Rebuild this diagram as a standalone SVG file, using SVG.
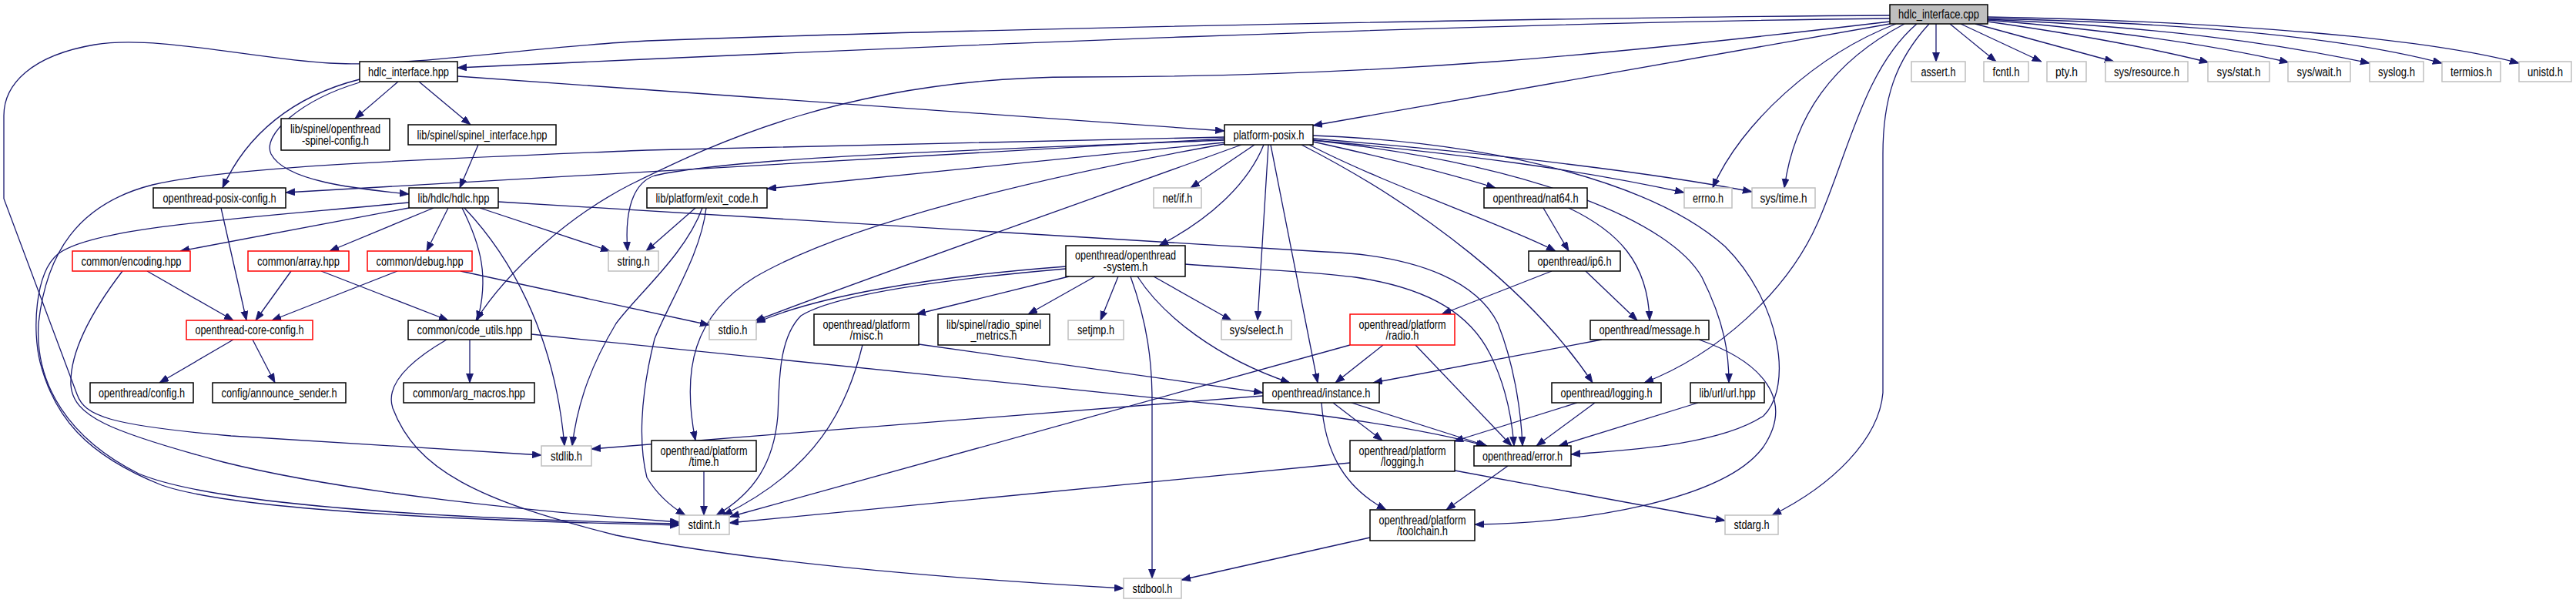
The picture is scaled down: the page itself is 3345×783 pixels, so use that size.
<svg xmlns="http://www.w3.org/2000/svg" width="3345" height="783" viewBox="0 0 3345 783">
<defs>
<marker id="a" markerUnits="userSpaceOnUse" markerWidth="13" markerHeight="10" refX="12" refY="4.5" orient="auto">
<path d="M0,0 L12,4.5 L0,9 Z" fill="#191970" stroke="#191970" stroke-width="0.8"/>
</marker>
<style>
.e{fill:none;stroke:#191970;stroke-width:1.3;marker-end:url(#a)}
.n rect{fill:#fff;stroke:#000;stroke-width:1.5}
.g rect{fill:#fff;stroke:#bfbfbf;stroke-width:1.5}
.r rect{fill:#fff;stroke:#ff0000;stroke-width:1.5}
.c rect{fill:#bfbfbf;stroke:#000;stroke-width:1.5}
text{font-family:"Liberation Sans Narrow","Liberation Sans",Arial,sans-serif;font-size:16px;fill:#000;text-anchor:middle}
</style>
</defs>
<rect width="3345" height="783" fill="#fff"/>
<g id="edges">
<path class="e" d="M2454,24 C1900,30 1200,60 594,88"/>
<path class="e" d="M2454,20 C2100,22 1300,36 840,53 C700,60 520,88 428,82 C330,76 200,45 123,58 C40,72 5,110 5,150 L5,258 L100,512 C110,540 140,552 300,566 L703,591"/>
<path class="e" d="M2454,28 C2100,70 1800,100 1400,100 C1100,100 920,190 818,240 C740,280 660,350 618,416"/>
<path class="e" d="M2454,31 L1705,163"/>
<path class="e" d="M2462,31 C2360,70 2260,160 2224,244"/>
<path class="e" d="M2473,31 C2380,80 2330,150 2317,244"/>
<path class="e" d="M2489,31 C2420,90 2400,200 2360,290 C2320,380 2230,460 2135,497"/>
<path class="e" d="M2505,31 C2460,80 2445,130 2445,200 L2445,510 C2440,570 2380,630 2301,669"/>
<path class="e" d="M2514,31 L2514,80"/>
<path class="e" d="M2532,31 L2592,80"/>
<path class="e" d="M2546,31 L2651,80"/>
<path class="e" d="M2565,31 L2745,80"/>
<path class="e" d="M2581,28 C2700,45 2800,64 2868,81"/>
<path class="e" d="M2581,26 C2750,40 2880,60 2972,81"/>
<path class="e" d="M2581,25 C2800,35 2950,55 3077,82"/>
<path class="e" d="M2581,24 C2850,30 3050,50 3171,82"/>
<path class="e" d="M2581,22 C2900,28 3150,50 3271,82"/>
<path class="e" d="M517,106 L461,154"/>
<path class="e" d="M544,106 L611,162"/>
<path class="e" d="M467,103 C380,125 320,175 289,244"/>
<path class="e" d="M467,107 C390,130 340,175 352,200 C370,235 460,245 531,252"/>
<path class="e" d="M594,99 L1590,170"/>
<path class="e" d="M621,188 L597,244"/>
<path class="e" d="M1590,178 L840,195 C600,205 300,215 198,240 C100,265 60,330 50,420 C45,500 90,570 180,615 C300,665 700,676 882,680"/>
<path class="e" d="M531,263 C300,285 120,295 75,330 C45,355 42,430 52,470 C70,540 110,590 210,630 C320,668 700,678 882,682"/>
<path class="e" d="M159,352 C130,390 90,450 92,500 C95,540 140,560 290,600 C450,640 700,665 882,678"/>
<path class="e" d="M1590,180 L371,250"/>
<path class="e" d="M1590,182 C1250,195 950,205 850,228 C815,240 812,290 815,326"/>
<path class="e" d="M1590,185 L996,245"/>
<path class="e" d="M1590,187 C1350,230 1100,290 980,360 C900,410 885,480 903,572"/>
<path class="e" d="M1612,188 C1400,265 1100,370 980,417"/>
<path class="e" d="M1629,188 L1546,244"/>
<path class="e" d="M1641,188 C1620,240 1570,285 1505,319"/>
<path class="e" d="M1647,188 L1633,416"/>
<path class="e" d="M1650,188 L1711,497"/>
<path class="e" d="M1705,182 C1900,200 2050,220 2187,250"/>
<path class="e" d="M1705,180 C1950,200 2150,225 2275,249"/>
<path class="e" d="M1705,184 C1800,205 1880,225 1942,244"/>
<path class="e" d="M1700,188 C1800,240 1950,290 2020,326"/>
<path class="e" d="M1690,188 C1850,270 1990,380 2068,497"/>
<path class="e" d="M1705,182 C2000,215 2170,290 2210,360 C2240,420 2245,460 2245,497"/>
<path class="e" d="M1705,176 C1950,185 2150,240 2240,320 C2310,390 2330,500 2290,540 C2230,580 2100,585 2040,590"/>
<path class="e" d="M531,270 L234,326"/>
<path class="e" d="M563,270 L428,326"/>
<path class="e" d="M582,270 L554,326"/>
<path class="e" d="M600,270 C625,320 635,360 620,416"/>
<path class="e" d="M603,270 C660,330 720,430 733,579"/>
<path class="e" d="M623,270 L792,326"/>
<path class="e" d="M647,262 C1100,290 1550,320 1720,327 C1850,332 1920,370 1945,420 C1965,470 1975,530 1977,579"/>
<path class="e" d="M903,270 L839,326"/>
<path class="e" d="M912,270 C890,330 830,380 800,420 C770,470 750,520 743,579"/>
<path class="e" d="M917,270 C910,330 870,390 850,440 C830,520 830,580 840,620 C855,645 875,660 890,669"/>
<path class="e" d="M191,352 L303,416"/>
<path class="e" d="M287,270 L320,416"/>
<path class="e" d="M378,352 L332,416"/>
<path class="e" d="M516,352 L353,416"/>
<path class="e" d="M417,352 L582,416"/>
<path class="e" d="M598,352 L921,422"/>
<path class="e" d="M303,441 L207,497"/>
<path class="e" d="M328,441 L357,497"/>
<path class="e" d="M610,441 L610,497"/>
<path class="e" d="M580,441 C530,470 500,500 510,530 C540,610 620,650 800,695 C1000,735 1300,755 1459,764"/>
<path class="e" d="M690,434 L1680,535 C1800,550 1880,565 1929,579"/>
<path class="e" d="M1388,359 L1190,408"/>
<path class="e" d="M1422,359 L1335,408"/>
<path class="e" d="M1452,359 L1429,416"/>
<path class="e" d="M1468,359 C1490,420 1496,470 1496,520 L1496,751"/>
<path class="e" d="M1477,359 C1510,410 1580,465 1675,497"/>
<path class="e" d="M1498,359 L1599,416"/>
<path class="e" d="M1539,343 C1600,348 1700,352 1760,360 C1860,375 1910,410 1935,460 C1955,500 1963,540 1966,579"/>
<path class="e" d="M1384,346 C1200,360 1060,385 982,419"/>
<path class="e" d="M1384,349 C1200,365 1080,385 1040,410 C1010,440 1012,500 1010,540 C1005,600 980,640 930,669"/>
<path class="e" d="M1193,447 L1640,510"/>
<path class="e" d="M1120,448 C1100,530 1060,610 939,669"/>
<path class="e" d="M1753,448 L948,671"/>
<path class="e" d="M1796,448 L1734,497"/>
<path class="e" d="M1838,448 L1963,579"/>
<path class="e" d="M2015,352 L1872,408"/>
<path class="e" d="M2059,352 L2126,416"/>
<path class="e" d="M2004,270 L2037,326"/>
<path class="e" d="M2037,270 C2100,300 2140,340 2142,416"/>
<path class="e" d="M2080,441 L1783,497"/>
<path class="e" d="M2206,441 C2290,470 2330,520 2290,580 C2240,650 2050,680 1915,681"/>
<path class="e" d="M1731,523 L1795,572"/>
<path class="e" d="M1755,523 L1931,579"/>
<path class="e" d="M1716,523 C1720,580 1740,630 1800,662"/>
<path class="e" d="M1640,514 L768,583"/>
<path class="e" d="M2048,523 L1888,573"/>
<path class="e" d="M2071,523 L1995,579"/>
<path class="e" d="M2205,523 L2024,579"/>
<path class="e" d="M1889,611 L2240,676"/>
<path class="e" d="M1753,601 L947,679"/>
<path class="e" d="M1958,605 L1878,662"/>
<path class="e" d="M1779,698 L1534,753"/>
<path class="e" d="M914,612 L914,669"/>
</g>
<g id="n_cpp" class="c"><rect x="2454" y="6" width="127" height="25"/><text x="2517.5" y="24" textLength="105" lengthAdjust="spacingAndGlyphs">hdlc_interface.cpp</text></g>
<g id="n_hif" class="n"><rect x="467" y="80" width="127" height="26"/><text x="530.5" y="98.5" textLength="105" lengthAdjust="spacingAndGlyphs">hdlc_interface.hpp</text></g>
<g id="n_assert" class="g"><rect x="2482" y="80" width="70" height="26"/><text x="2517" y="98.5" textLength="45" lengthAdjust="spacingAndGlyphs">assert.h</text></g>
<g id="n_fcntl" class="g"><rect x="2576" y="80" width="58" height="26"/><text x="2605" y="98.5" textLength="35" lengthAdjust="spacingAndGlyphs">fcntl.h</text></g>
<g id="n_pty" class="g"><rect x="2658" y="80" width="51" height="26"/><text x="2683.5" y="98.5" textLength="29" lengthAdjust="spacingAndGlyphs">pty.h</text></g>
<g id="n_resource" class="g"><rect x="2734" y="80" width="107" height="26"/><text x="2787.5" y="98.5" textLength="85" lengthAdjust="spacingAndGlyphs">sys/resource.h</text></g>
<g id="n_stat" class="g"><rect x="2867" y="80" width="80" height="26"/><text x="2907" y="98.5" textLength="57" lengthAdjust="spacingAndGlyphs">sys/stat.h</text></g>
<g id="n_wait" class="g"><rect x="2971" y="80" width="81" height="26"/><text x="3011.5" y="98.5" textLength="58" lengthAdjust="spacingAndGlyphs">sys/wait.h</text></g>
<g id="n_syslog" class="g"><rect x="3077" y="80" width="70" height="26"/><text x="3112" y="98.5" textLength="48" lengthAdjust="spacingAndGlyphs">syslog.h</text></g>
<g id="n_termios" class="g"><rect x="3171" y="80" width="76" height="26"/><text x="3209" y="98.5" textLength="54" lengthAdjust="spacingAndGlyphs">termios.h</text></g>
<g id="n_unistd" class="g"><rect x="3271" y="80" width="68" height="26"/><text x="3305" y="98.5" textLength="46" lengthAdjust="spacingAndGlyphs">unistd.h</text></g>
<g id="n_spcfg" class="n"><rect x="365" y="154" width="141" height="41"/><text x="435.5" y="172.5" textLength="117" lengthAdjust="spacingAndGlyphs">lib/spinel/openthread</text><text x="435.5" y="187.5" textLength="87" lengthAdjust="spacingAndGlyphs">-spinel-config.h</text></g>
<g id="n_spif" class="n"><rect x="530" y="162" width="192" height="26"/><text x="626" y="180.5" textLength="169" lengthAdjust="spacingAndGlyphs">lib/spinel/spinel_interface.hpp</text></g>
<g id="n_pp" class="n"><rect x="1590" y="162" width="115" height="26"/><text x="1647.5" y="180.5" textLength="92" lengthAdjust="spacingAndGlyphs">platform-posix.h</text></g>
<g id="n_opc" class="n"><rect x="199" y="244" width="172" height="26"/><text x="285" y="262.5" textLength="147" lengthAdjust="spacingAndGlyphs">openthread-posix-config.h</text></g>
<g id="n_hdlc" class="n"><rect x="531" y="244" width="116" height="26"/><text x="589" y="262.5" textLength="93" lengthAdjust="spacingAndGlyphs">lib/hdlc/hdlc.hpp</text></g>
<g id="n_exit" class="n"><rect x="840" y="244" width="156" height="26"/><text x="918" y="262.5" textLength="133" lengthAdjust="spacingAndGlyphs">lib/platform/exit_code.h</text></g>
<g id="n_netif" class="g"><rect x="1498" y="244" width="62" height="26"/><text x="1529" y="262.5" textLength="39" lengthAdjust="spacingAndGlyphs">net/if.h</text></g>
<g id="n_nat64" class="n"><rect x="1927" y="244" width="134" height="26"/><text x="1994" y="262.5" textLength="111" lengthAdjust="spacingAndGlyphs">openthread/nat64.h</text></g>
<g id="n_errno" class="g"><rect x="2187" y="244" width="62" height="26"/><text x="2218" y="262.5" textLength="40" lengthAdjust="spacingAndGlyphs">errno.h</text></g>
<g id="n_systime" class="g"><rect x="2275" y="244" width="82" height="26"/><text x="2316" y="262.5" textLength="61" lengthAdjust="spacingAndGlyphs">sys/time.h</text></g>
<g id="n_enc" class="r"><rect x="94" y="326" width="153" height="26"/><text x="170.5" y="344.5" textLength="130" lengthAdjust="spacingAndGlyphs">common/encoding.hpp</text></g>
<g id="n_array" class="r"><rect x="322" y="326" width="131" height="26"/><text x="387.5" y="344.5" textLength="107" lengthAdjust="spacingAndGlyphs">common/array.hpp</text></g>
<g id="n_debug" class="r"><rect x="477" y="326" width="136" height="26"/><text x="545" y="344.5" textLength="113" lengthAdjust="spacingAndGlyphs">common/debug.hpp</text></g>
<g id="n_string" class="g"><rect x="790" y="326" width="65" height="26"/><text x="822.5" y="344.5" textLength="42" lengthAdjust="spacingAndGlyphs">string.h</text></g>
<g id="n_ossys" class="n"><rect x="1384" y="319" width="155" height="40"/><text x="1461.5" y="336.5" textLength="131" lengthAdjust="spacingAndGlyphs">openthread/openthread</text><text x="1461.5" y="351.5" textLength="58" lengthAdjust="spacingAndGlyphs">-system.h</text></g>
<g id="n_ip6" class="n"><rect x="1985" y="326" width="119" height="26"/><text x="2044.5" y="344.5" textLength="96" lengthAdjust="spacingAndGlyphs">openthread/ip6.h</text></g>
<g id="n_core" class="r"><rect x="242" y="416" width="164" height="25"/><text x="324" y="434" textLength="141" lengthAdjust="spacingAndGlyphs">openthread-core-config.h</text></g>
<g id="n_code" class="n"><rect x="530" y="416" width="160" height="25"/><text x="610" y="434" textLength="137" lengthAdjust="spacingAndGlyphs">common/code_utils.hpp</text></g>
<g id="n_stdio" class="g"><rect x="921" y="416" width="61" height="25"/><text x="951.5" y="434" textLength="38" lengthAdjust="spacingAndGlyphs">stdio.h</text></g>
<g id="n_misc" class="n"><rect x="1057" y="408" width="136" height="40"/><text x="1125" y="426.5" textLength="113" lengthAdjust="spacingAndGlyphs">openthread/platform</text><text x="1125" y="440.5" textLength="43" lengthAdjust="spacingAndGlyphs">/misc.h</text></g>
<g id="n_rsm" class="n"><rect x="1218" y="408" width="145" height="40"/><text x="1290.5" y="426.5" textLength="123" lengthAdjust="spacingAndGlyphs">lib/spinel/radio_spinel</text><text x="1290.5" y="440.5" textLength="60" lengthAdjust="spacingAndGlyphs">_metrics.h</text></g>
<g id="n_setjmp" class="g"><rect x="1387" y="416" width="72" height="25"/><text x="1423" y="434" textLength="48" lengthAdjust="spacingAndGlyphs">setjmp.h</text></g>
<g id="n_select" class="g"><rect x="1586" y="416" width="91" height="25"/><text x="1631.5" y="434" textLength="70" lengthAdjust="spacingAndGlyphs">sys/select.h</text></g>
<g id="n_radio" class="r"><rect x="1753" y="408" width="136" height="40"/><text x="1821" y="426.5" textLength="113" lengthAdjust="spacingAndGlyphs">openthread/platform</text><text x="1821" y="440.5" textLength="43" lengthAdjust="spacingAndGlyphs">/radio.h</text></g>
<g id="n_message" class="n"><rect x="2065" y="416" width="154" height="25"/><text x="2142" y="434" textLength="131" lengthAdjust="spacingAndGlyphs">openthread/message.h</text></g>
<g id="n_config" class="n"><rect x="117" y="497" width="134" height="26"/><text x="184" y="515.5" textLength="112" lengthAdjust="spacingAndGlyphs">openthread/config.h</text></g>
<g id="n_announce" class="n"><rect x="276" y="497" width="173" height="26"/><text x="362.5" y="515.5" textLength="150" lengthAdjust="spacingAndGlyphs">config/announce_sender.h</text></g>
<g id="n_argm" class="n"><rect x="524" y="497" width="170" height="26"/><text x="609" y="515.5" textLength="146" lengthAdjust="spacingAndGlyphs">common/arg_macros.hpp</text></g>
<g id="n_instance" class="n"><rect x="1640" y="497" width="151" height="26"/><text x="1715.5" y="515.5" textLength="128" lengthAdjust="spacingAndGlyphs">openthread/instance.h</text></g>
<g id="n_logging" class="n"><rect x="2015" y="497" width="142" height="26"/><text x="2086" y="515.5" textLength="119" lengthAdjust="spacingAndGlyphs">openthread/logging.h</text></g>
<g id="n_url" class="n"><rect x="2195" y="497" width="96" height="26"/><text x="2243" y="515.5" textLength="73" lengthAdjust="spacingAndGlyphs">lib/url/url.hpp</text></g>
<g id="n_stdlib" class="g"><rect x="703" y="579" width="65" height="26"/><text x="735.5" y="597.5" textLength="41" lengthAdjust="spacingAndGlyphs">stdlib.h</text></g>
<g id="n_ptime" class="n"><rect x="846" y="572" width="136" height="40"/><text x="914" y="590.5" textLength="113" lengthAdjust="spacingAndGlyphs">openthread/platform</text><text x="914" y="604.5" textLength="39" lengthAdjust="spacingAndGlyphs">/time.h</text></g>
<g id="n_plog" class="n"><rect x="1753" y="572" width="136" height="40"/><text x="1821" y="590.5" textLength="113" lengthAdjust="spacingAndGlyphs">openthread/platform</text><text x="1821" y="604.5" textLength="56" lengthAdjust="spacingAndGlyphs">/logging.h</text></g>
<g id="n_error" class="n"><rect x="1914" y="579" width="126" height="26"/><text x="1977" y="597.5" textLength="104" lengthAdjust="spacingAndGlyphs">openthread/error.h</text></g>
<g id="n_stdint" class="g"><rect x="882" y="669" width="65" height="25"/><text x="914.5" y="687" textLength="42" lengthAdjust="spacingAndGlyphs">stdint.h</text></g>
<g id="n_stdarg" class="g"><rect x="2240" y="669" width="69" height="25"/><text x="2274.5" y="687" textLength="46" lengthAdjust="spacingAndGlyphs">stdarg.h</text></g>
<g id="n_toolchain" class="n"><rect x="1779" y="662" width="136" height="40"/><text x="1847" y="680.5" textLength="113" lengthAdjust="spacingAndGlyphs">openthread/platform</text><text x="1847" y="694.5" textLength="66" lengthAdjust="spacingAndGlyphs">/toolchain.h</text></g>
<g id="n_stdbool" class="g"><rect x="1459" y="751" width="75" height="26"/><text x="1496.5" y="769.5" textLength="52" lengthAdjust="spacingAndGlyphs">stdbool.h</text></g>
</svg>
